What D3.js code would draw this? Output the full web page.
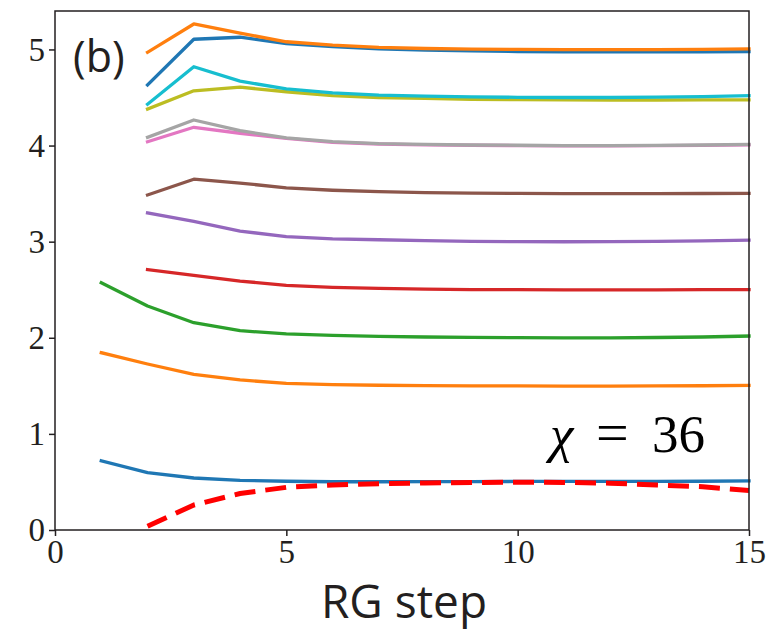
<html>
<head>
<script src="https://d3js.org/d3.v7.min.js"></script>
<style>
  body { margin: 0; background: #fff; }
</style>
</head>
<body>
</body>
<script>
    var W = 769, H = 633;
    var margin = {top: 11, right: 20, bottom: 103, left: 55};
    var width = W - margin.left - margin.right,
        height = H - margin.top - margin.bottom;
    var serif = '"Liberation Serif", "DejaVu Serif", "Times New Roman", serif';

    // RG steps on the x axis
    let steps = [1, 2, 3, 4, 5, 6, 7, 8, 9, 10, 11, 12, 13, 14, 15];
    let xTicks = [0, 5, 10, 15];
    let yTicks = [0, 1, 2, 3, 4, 5];

    // one array per line, null where the line has no point
    let blueLow    = [0.72, 0.596, 0.541, 0.517, 0.507, 0.502, 0.502, 0.503, 0.504, 0.505, 0.505, 0.505, 0.506, 0.507, 0.51];
    let orangeLow  = [1.845, 1.727, 1.62, 1.561, 1.526, 1.512, 1.506, 1.503, 1.50, 1.499, 1.498, 1.498, 1.499, 1.501, 1.505];
    let green      = [2.573, 2.33, 2.157, 2.074, 2.04, 2.025, 2.015, 2.008, 2.004, 2.002, 2.0, 2.0, 2.003, 2.008, 2.018];
    let red        = [null, 2.71, 2.65, 2.59, 2.546, 2.525, 2.513, 2.506, 2.502, 2.50, 2.499, 2.499, 2.499, 2.50, 2.501];
    let purple     = [null, 3.30, 3.21, 3.11, 3.052, 3.03, 3.02, 3.01, 3.004, 3.0, 2.999, 3.0, 3.003, 3.008, 3.015];
    let brown      = [null, 3.486, 3.65, 3.61, 3.56, 3.535, 3.52, 3.51, 3.505, 3.502, 3.5, 3.5, 3.5, 3.501, 3.503];
    let pink       = [null, 4.04, 4.19, 4.128, 4.075, 4.034, 4.016, 4.008, 4.003, 4.0, 3.998, 3.998, 3.999, 4.002, 4.006];
    let gray       = [null, 4.086, 4.266, 4.155, 4.08, 4.04, 4.02, 4.012, 4.006, 4.003, 4.0, 4.0, 4.002, 4.006, 4.012];
    let olive      = [null, 4.38, 4.57, 4.607, 4.56, 4.52, 4.50, 4.49, 4.482, 4.478, 4.475, 4.474, 4.474, 4.475, 4.476];
    let cyan       = [null, 4.43, 4.82, 4.67, 4.59, 4.548, 4.525, 4.515, 4.507, 4.502, 4.50, 4.50, 4.503, 4.51, 4.52];
    let blueHigh   = [null, 4.63, 5.106, 5.127, 5.06, 5.03, 5.005, 4.993, 4.985, 4.978, 4.975, 4.974, 4.974, 4.975, 4.978];
    let orangeHigh = [null, 4.97, 5.265, 5.17, 5.08, 5.045, 5.022, 5.01, 5.003, 5.0, 4.998, 4.998, 4.999, 5.001, 5.005];
    let dashed     = [null, 0.04, 0.26, 0.38, 0.444, 0.468, 0.482, 0.489, 0.493, 0.498, 0.495, 0.487, 0.468, 0.45, 0.41];

    // draw order matches the original (later ones on top)
    let series = [blueLow, orangeLow, green, red, purple, brown, pink, gray, olive, cyan, blueHigh, orangeHigh];
    let colors = ["#1f77b4", "#ff7f0e", "#2ca02c", "#d62728", "#9467bd", "#8c564b",
                  "#e377c2", "#a5a5a5", "#bcbd22", "#17becf", "#1f77b4", "#ff7f0e"];

    let svg = d3.select("body").append("svg")
        .attr("width", W)
        .attr("height", H)
        .append("g")
        .attr("transform", "translate(" + margin.left + "," + margin.top + ")");

    let x = d3.scaleLinear().domain([0, 15]).range([0, width]);
    let y = d3.scaleLinear().domain([0, 5.4]).range([height, 0]);

    let line = d3.line()
        .defined(d => d.v !== null)
        .x(d => x(d.s))
        .y(d => y(d.v));

    function points(vals) {
        return steps.map((s, i) => ({s: s, v: vals[i]}));
    }

    for (var i = 0; i < series.length; i++) {
        svg.append("path")
            .datum(points(series[i]))
            .attr("d", line)
            .attr("fill", "none")
            .attr("stroke", colors[i])
            .attr("stroke-width", 3.3)
            .attr("stroke-linejoin", "round")
            .attr("stroke-linecap", "square");
    }

    // red dashed curve
    svg.append("path")
        .datum(points(dashed))
        .attr("d", line)
        .attr("fill", "none")
        .attr("stroke", "#ff0000")
        .attr("stroke-width", 5)
        .attr("stroke-dasharray", "21,10")
        .attr("stroke-linejoin", "round");

    // axes
    let xAxis = svg.append("g")
        .attr("transform", "translate(0," + height + ")")
        .call(d3.axisBottom(x).tickValues(xTicks).tickFormat(d3.format("d")).tickSize(6).tickPadding(4));
    let yAxis = svg.append("g")
        .call(d3.axisLeft(y).tickValues(yTicks).tickFormat(d3.format("d")).tickSize(6).tickPadding(4));

    [xAxis, yAxis].forEach(a => {
        a.attr("font-family", serif).attr("font-size", 33);
        a.select(".domain").remove();
        a.selectAll(".tick line").attr("stroke", "#231f20").attr("stroke-width", 1.5);
        a.selectAll(".tick text").attr("fill", "#231f20");
    });

    // frame
    svg.append("rect")
        .attr("x", 0)
        .attr("y", 0)
        .attr("width", width)
        .attr("height", height)
        .attr("fill", "none")
        .attr("stroke", "#231f20")
        .attr("stroke-width", 1.5);

    // labels
    svg.append("text")
        .attr("x", width / 2 + 2)
        .attr("y", 607)
        .attr("text-anchor", "middle")
        .attr("font-family", "'Open Sans', sans-serif")
        .attr("font-size", 46)
        .attr("fill", "#231f20")
        .text("RG step");

    svg.append("text")
        .attr("x", 18)
        .attr("y", 61)
        .attr("font-family", "'Open Sans', sans-serif")
        .attr("font-size", 43)
        .attr("fill", "#231f20")
        .text("(b)");

    let chi = svg.append("text")
        .attr("y", 441)
        .attr("font-family", serif)
        .attr("font-size", 53)
        .attr("fill", "#000");
    chi.append("tspan").attr("x", 495).attr("font-style", "italic").text("χ");
    chi.append("tspan").attr("x", 541).attr("font-size", 58).text("=");
    chi.append("tspan").attr("x", 597).text("36");
</script>
</html>
